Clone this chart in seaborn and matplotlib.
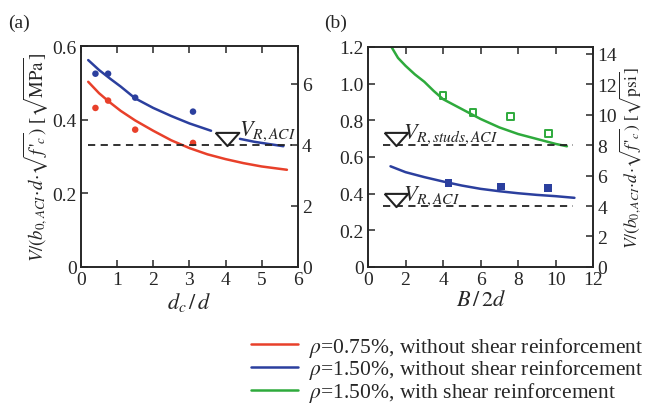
import matplotlib
matplotlib.use('Agg')
import matplotlib.pyplot as plt
import seaborn as sns
from matplotlib.lines import Line2D

# ---- data, panel (a) ----
a_pts_x = [0.4, 0.75, 1.5, 3.1]
a_blue_pts = [0.525, 0.525, 0.460, 0.422]
a_red_pts = [0.432, 0.452, 0.373, 0.337]

a_blue_x1 = [0.2, 0.5, 0.8, 1.1, 1.5, 2.0, 2.5, 3.0, 3.6]
a_blue_y1 = [0.562, 0.535, 0.512, 0.490, 0.458, 0.432, 0.410, 0.390, 0.370]
a_blue_x2 = [4.4, 4.8, 5.2, 5.6]
a_blue_y2 = [0.348, 0.340, 0.334, 0.328]
a_red_x = [0.2, 0.5, 0.8, 1.1, 1.5, 2.0, 2.5, 3.0, 3.5, 4.0, 4.5, 5.0, 5.7]
a_red_y = [0.503, 0.472, 0.447, 0.424, 0.398, 0.370, 0.344, 0.323, 0.306, 0.293, 0.282, 0.273, 0.264]

# ---- data, panel (b) ----
b_green_pts_x = [4.0, 5.6, 7.6, 9.6]
b_green_pts_y = [0.934, 0.843, 0.819, 0.729]
b_blue_pts_x = [4.3, 7.1, 9.6]
b_blue_pts_y = [0.459, 0.439, 0.431]

b_green_x = [1.25, 1.6, 2.0, 2.5, 3.0, 3.5, 4.0, 5.0, 6.0, 7.0, 8.0, 9.0, 10.0, 10.6]
b_green_y = [1.200, 1.140, 1.097, 1.050, 1.010, 0.960, 0.915, 0.861, 0.807, 0.761, 0.725, 0.698, 0.671, 0.658]
b_blue_x = [1.2, 2.0, 3.0, 4.0, 5.0, 6.0, 7.0, 8.0, 9.0, 10.0, 11.0]
b_blue_y = [0.549, 0.517, 0.490, 0.466, 0.444, 0.426, 0.413, 0.402, 0.393, 0.386, 0.377]

v_aci = 0.332
v_studs = 0.664
psi_per_mpa = 12.04

red = '#e8402a'
blue = '#2b3f9e'
green = '#2eaa3c'

sns.set_style('ticks')
plt.rcParams['font.family'] = ['Liberation Serif', 'DejaVu Serif']
plt.rcParams['mathtext.fontset'] = 'stix'
plt.rcParams['xtick.direction'] = 'in'
plt.rcParams['ytick.direction'] = 'in'
plt.rcParams['axes.linewidth'] = 1.2

fig = plt.figure(figsize=(6.49, 4.06), dpi=100)
ax1 = fig.add_axes([0.1248, 0.340, 0.334, 0.544])
ax2 = fig.add_axes([0.567, 0.340, 0.347, 0.542])

fs = 14
ylab = r"$V/(b_{0,ACI}\!\cdot\! d\!\cdot\!\sqrt{f\,'_c})$ [$\sqrt{\mathrm{%s}}$]"
# flat downward triangle (wider than tall)
tri = [(-1, 0.56), (1, 0.56), (0, -0.56), (-1, 0.56)]

# panel (a)
sns.lineplot(x=a_red_x, y=a_red_y, ax=ax1, color=red, lw=1.8)
sns.lineplot(x=a_blue_x1, y=a_blue_y1, ax=ax1, color=blue, lw=1.8)
sns.lineplot(x=a_blue_x2, y=a_blue_y2, ax=ax1, color=blue, lw=1.8)
sns.scatterplot(x=a_pts_x, y=a_blue_pts, ax=ax1, color=blue, s=22, edgecolor='none')
sns.scatterplot(x=a_pts_x, y=a_red_pts, ax=ax1, color=red, s=22, edgecolor='none')
ax1.plot([0.2, 5.85], [v_aci, v_aci], ls=(0, (4, 3)), color='#222222', lw=1.3)
ax1.plot([4.05], [0.348], marker=tri, ms=17, mfc='white', mec='#222222', mew=1.5)
ax1.text(4.38, 0.36, r'$V_{R,ACI}$', fontsize=16)
ax1.set_xlim(0, 6)
ax1.set_ylim(0, 0.6)
ax1.set_xticks(range(7))
ax1.set_yticks([0, 0.2, 0.4, 0.6])
ax1.set_yticklabels(['0', '0.2', '0.4', '0.6'])
ax1.set_xlabel(r'$d_c\,/\,d$', fontsize=16, labelpad=1)
ax1.set_ylabel(ylab % 'MPa', fontsize=13.5, labelpad=2)
ax1.tick_params(labelsize=fs, top=True, length=5, width=1.1, pad=3)
ax1r = ax1.twinx()
ax1r.set_ylim(0, 0.6 * psi_per_mpa)
ax1r.set_yticks([0, 2, 4, 6])
ax1r.tick_params(labelsize=fs, direction='in', length=5, width=1.1, pad=3)
fig.text(0.012, 0.93, '(a)', fontsize=14)

# panel (b)
sns.lineplot(x=b_green_x, y=b_green_y, ax=ax2, color=green, lw=1.8)
sns.lineplot(x=b_blue_x, y=b_blue_y, ax=ax2, color=blue, lw=1.8)
sns.scatterplot(x=b_green_pts_x, y=b_green_pts_y, ax=ax2, marker='s', s=24,
                facecolor='none', edgecolor=green, linewidth=1.4)
sns.scatterplot(x=b_blue_pts_x, y=b_blue_pts_y, ax=ax2, marker='s', s=30,
                color=blue, edgecolor='none')
for v in [v_studs, v_aci]:
    ax2.plot([0.8, 10.9], [v, v], ls=(0, (4, 3)), color='#222222', lw=1.3)
    ax2.plot([1.5], [v + 0.034], marker=tri, ms=17, mfc='white', mec='#222222', mew=1.5)
ax2.text(1.85, v_studs + 0.04, r'$V_{R,studs,ACI}$', fontsize=16)
ax2.text(1.85, v_aci + 0.035, r'$V_{R,ACI}$', fontsize=16)
ax2.set_xlim(0, 12)
ax2.set_ylim(0, 1.2)
ax2.set_xticks(range(0, 13, 2))
ax2.set_yticks([0, 0.2, 0.4, 0.6, 0.8, 1.0, 1.2])
ax2.set_yticklabels(['0', '0.2', '0.4', '0.6', '0.8', '1.0', '1.2'])
ax2.set_xlabel(r'$B\,/\,2d$', fontsize=16, labelpad=1)
ax2.tick_params(labelsize=fs, top=True, length=5, width=1.1, pad=3)
ax2r = ax2.twinx()
ax2r.set_ylim(0, 1.2 * psi_per_mpa)
ax2r.set_yticks(range(0, 15, 2))
ax2r.tick_params(labelsize=fs, direction='in', length=5, width=1.1, pad=3)
ax2r.set_ylabel(ylab % 'psi', fontsize=12.5, labelpad=0)
fig.text(0.500, 0.93, '(b)', fontsize=14)

# legend
labels = [r'$\rho$=0.75%, without shear reinforcement',
          r'$\rho$=1.50%, without shear reinforcement',
          r'$\rho$=1.50%, with shear reinforcement']
handles = [Line2D([], [], color=c, lw=1.8) for c in [red, blue, green]]
fig.legend(handles, labels, loc='upper left', bbox_to_anchor=(0.37, 0.2),
           frameon=False, fontsize=15.5, handlelength=2.2, labelspacing=-0.05,
           handletextpad=0.5, borderpad=0)

fig.savefig('out.png', dpi=100)
